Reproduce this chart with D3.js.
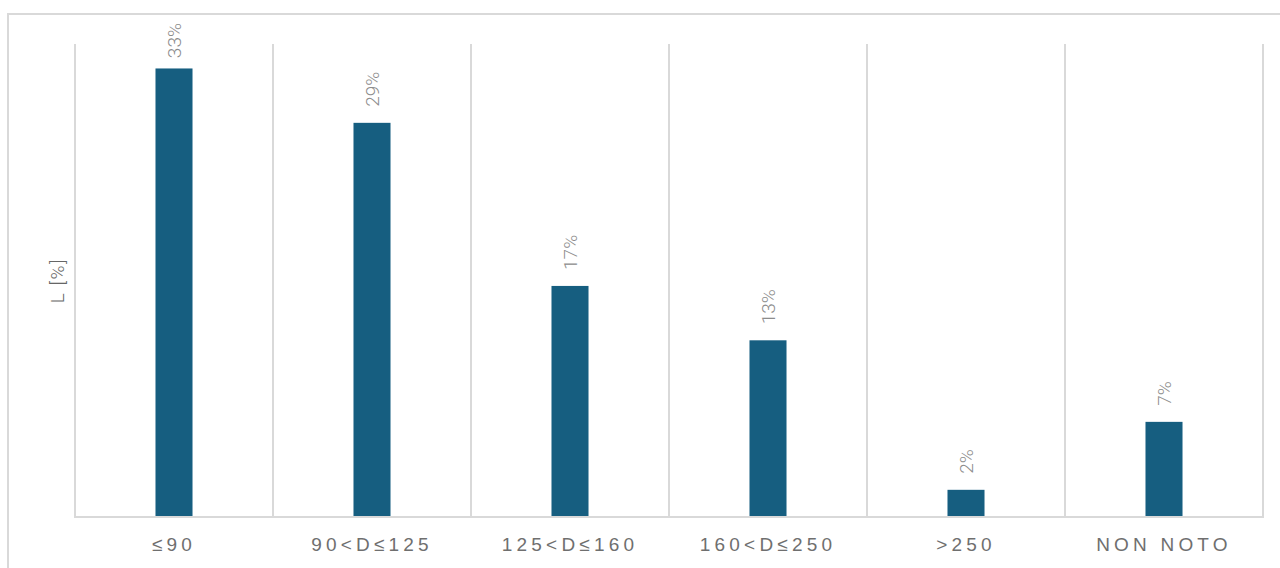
<!DOCTYPE html>
<html>
<head>
<meta charset="utf-8">
<script src="https://cdn.jsdelivr.net/npm/d3@7"></script>
<style>
  html, body { margin: 0; padding: 0; background: #fff; }
  svg { display: block; font-family: Roboto, "Noto Sans", sans-serif; }
</style>
</head>
<body>
<svg id="chart" width="1280" height="568"></svg>
<script>
// Share of length by diameter class
const categories = ["≤90", "90<D≤125", "125<D≤160", "160<D≤250", ">250", "NON NOTO"];
const values = [33, 29, 17, 13, 2, 7];
const yTitle = "L [%]";
const yMax = 34.8;

const svg = d3.select("#chart");
const W = 1280, H = 568;
const plot = { left: 75, right: 1263, top: 44, bottom: 517 };

const gridColor = "#d9d9d9";
const barColor = "#165e80";

// Outer chart frame
svg.append("rect")
  .attr("x", 8).attr("y", 14)
  .attr("width", W + 20).attr("height", H + 20)
  .attr("fill", "none")
  .attr("stroke", gridColor)
  .attr("stroke-width", 2);

const x = d3.scaleBand()
  .domain(categories)
  .range([plot.left, plot.right])
  .padding(0);

const y = d3.scaleLinear()
  .domain([0, yMax])
  .range([plot.bottom, plot.top]);

// Vertical separators between categories
const edges = categories.map(c => x(c)).concat([plot.right]);
svg.append("g")
  .selectAll("line")
  .data(edges)
  .join("line")
  .attr("x1", d => d).attr("x2", d => d)
  .attr("y1", plot.top).attr("y2", plot.bottom)
  .attr("stroke", gridColor)
  .attr("stroke-width", 2);

// Bars
const barW = x.bandwidth() * 0.187;
svg.append("g")
  .selectAll("rect")
  .data(values)
  .join("rect")
  .attr("x", (d, i) => x(categories[i]) + x.bandwidth() / 2 - barW / 2)
  .attr("y", d => y(d))
  .attr("width", barW)
  .attr("height", d => y(0) - y(d))
  .attr("fill", barColor);

// Category axis
const xAxis = svg.append("g")
  .attr("transform", `translate(0,${plot.bottom})`)
  .call(d3.axisBottom(x).tickSize(0).tickPadding(23));
xAxis.select(".domain")
  .attr("stroke", gridColor)
  .attr("stroke-width", 2)
  .attr("d", `M${plot.left - 1},0H${plot.right + 1}`);
xAxis.selectAll("text")
  .attr("fill", "#6f6f6f")
  .style("font-size", "19px")
  .style("font-weight", "300")
  .style("letter-spacing", "4.2px")
  .attr("dy", "0.6em");

// Value labels, rotated above each bar; kept inside the frame when the bar is tall
const labelGap = 16;
const labelTop = 23;
const labels = svg.append("g")
  .selectAll("text")
  .data(values)
  .join("text")
  .attr("text-anchor", "start")
  .attr("fill", "#8c8c8c")
  .style("font-size", "19px")
  .style("font-weight", "300")
  .text(d => d + "%");
labels.attr("transform", function (d, i) {
  const cx = x(categories[i]) + x.bandwidth() / 2;
  const len = this.getComputedTextLength();
  const base = Math.max(y(d) - labelGap, labelTop + len);
  return `translate(${cx + 7},${base}) rotate(-90)`;
});

// Y axis title
svg.append("text")
  .attr("transform", `translate(64,${(plot.top + plot.bottom) / 2}) rotate(-90)`)
  .attr("text-anchor", "middle")
  .attr("fill", "#666")
  .style("font-size", "19px")
  .style("font-weight", "300")
  .style("letter-spacing", "1.5px")
  .text(yTitle);
</script>
</body>
</html>
